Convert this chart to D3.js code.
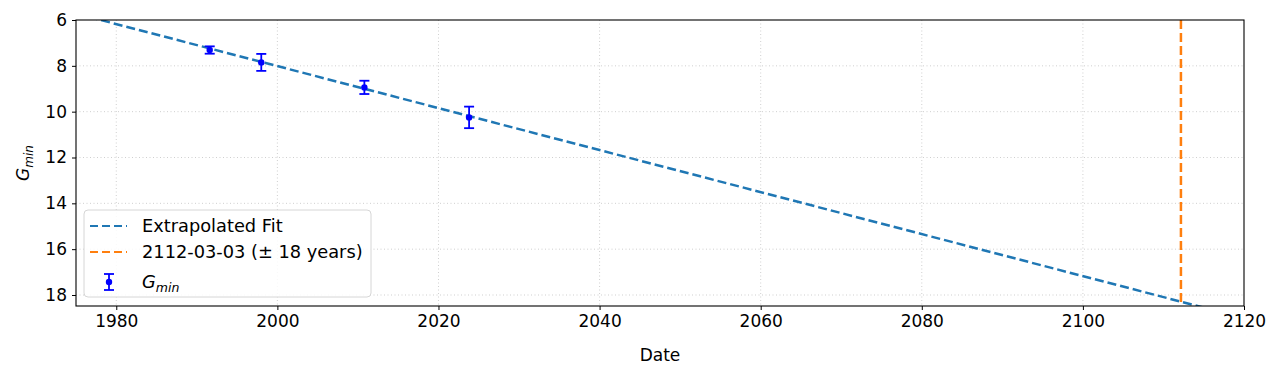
<!DOCTYPE html>
<html>
<head>
<meta charset="utf-8">
<script src="https://cdn.jsdelivr.net/npm/d3@7"></script>
<style>
  body { margin: 0; background: #fff; }
  svg text { font-family: "DejaVu Sans", sans-serif; }
</style>
</head>
<body>
<div id="chart"></div>
<script>
// Dados observados (G_min)
const obsYears = [1991.6, 1998.0, 2010.8, 2023.8];
const obsValues = [7.31, 7.85, 8.94, 10.25];
const obsErrors = [0.16, 0.37, 0.29, 0.47];

// Ajuste extrapolado (extremos da reta)
const fitYears = [1975, 2115];
const fitValues = [5.72, 18.55];

// Data prevista
const predictedYear = 2112.17;

const xTicks = [1980, 2000, 2020, 2040, 2060, 2080, 2100, 2120];
const yTicks = [6, 8, 10, 12, 14, 16, 18];

const legendLabels = ['Extrapolated Fit', '2112-03-03 (\u00b1 18 years)'];

const W = 1280, H = 377;
const margin = { top: 20, right: 36, bottom: 71, left: 76 };
const width = W - margin.left - margin.right;
const height = H - margin.top - margin.bottom;

const svg = d3.select('#chart').append('svg')
  .attr('width', W).attr('height', H);

const g = svg.append('g')
  .attr('transform', `translate(${margin.left},${margin.top})`);

const x = d3.scaleLinear().domain([1975, 2120]).range([0, width]);
const y = d3.scaleLinear().domain([6, 18.48]).range([0, height]);

svg.append('defs').append('clipPath').attr('id', 'clip')
  .append('rect').attr('width', width).attr('height', height);

// Grade pontilhada
g.append('g').selectAll('line').data(xTicks.filter(d => d < 2120)).enter().append('line')
  .attr('x1', d => x(d)).attr('x2', d => x(d))
  .attr('y1', 0).attr('y2', height)
  .attr('stroke', '#cfcfcf').attr('stroke-width', 1).attr('stroke-dasharray', '1,2.5');
g.append('g').selectAll('line').data(yTicks.filter(d => d > 6)).enter().append('line')
  .attr('x1', 0).attr('x2', width)
  .attr('y1', d => y(d)).attr('y2', d => y(d))
  .attr('stroke', '#cfcfcf').attr('stroke-width', 1).attr('stroke-dasharray', '1,2.5');

const plot = g.append('g').attr('clip-path', 'url(#clip)');

// Linha de ajuste
const line = d3.line().x((d, i) => x(fitYears[i])).y(d => y(d));
plot.append('path')
  .datum(fitValues)
  .attr('d', line)
  .attr('fill', 'none')
  .attr('stroke', '#1f77b4')
  .attr('stroke-width', 2.5)
  .attr('stroke-dasharray', '9,4');

// Linha vertical da data prevista
plot.append('line')
  .attr('x1', x(predictedYear)).attr('x2', x(predictedYear))
  .attr('y1', 0).attr('y2', height)
  .attr('stroke', '#ff7f0e')
  .attr('stroke-width', 2.5)
  .attr('stroke-dasharray', '9,4');

// Barras de erro
const pts = obsYears.map((yr, i) => ({ yr, v: obsValues[i], e: obsErrors[i] }));
const eb = g.append('g').selectAll('g').data(pts).enter().append('g');
eb.append('line')
  .attr('x1', d => x(d.yr)).attr('x2', d => x(d.yr))
  .attr('y1', d => y(d.v - d.e)).attr('y2', d => y(d.v + d.e))
  .attr('stroke', '#0000ff').attr('stroke-width', 1.8);
eb.append('line')
  .attr('x1', d => x(d.yr) - 5).attr('x2', d => x(d.yr) + 5)
  .attr('y1', d => y(d.v - d.e)).attr('y2', d => y(d.v - d.e))
  .attr('stroke', '#0000ff').attr('stroke-width', 1.8);
eb.append('line')
  .attr('x1', d => x(d.yr) - 5).attr('x2', d => x(d.yr) + 5)
  .attr('y1', d => y(d.v + d.e)).attr('y2', d => y(d.v + d.e))
  .attr('stroke', '#0000ff').attr('stroke-width', 1.8);
eb.append('circle')
  .attr('cx', d => x(d.yr)).attr('cy', d => y(d.v))
  .attr('r', 3.2).attr('fill', '#0000ff');

// Eixos
const xAxis = g.append('g')
  .attr('transform', `translate(0,${height})`)
  .call(d3.axisBottom(x).tickValues(xTicks).tickFormat(d3.format('d')).tickSizeOuter(0).tickSize(4).tickPadding(5));
const yAxis = g.append('g')
  .call(d3.axisLeft(y).tickValues(yTicks).tickFormat(d3.format('d')).tickSizeOuter(0).tickSize(4).tickPadding(5));
[xAxis, yAxis].forEach(a => {
  a.selectAll('text').style('font-size', '17px').attr('fill', '#000');
  a.selectAll('line').attr('stroke', '#000').attr('stroke-width', 1);
  a.select('.domain').remove();
});

// Moldura
g.append('rect')
  .attr('width', width).attr('height', height)
  .attr('fill', 'none').attr('stroke', '#000').attr('stroke-width', 1.1);

// Rótulos
svg.append('text')
  .attr('x', margin.left + width / 2).attr('y', 361)
  .attr('text-anchor', 'middle')
  .style('font-size', '17px')
  .text('Date');

const yl = svg.append('text')
  .attr('transform', `translate(29,${margin.top + height / 2}) rotate(-90)`)
  .attr('text-anchor', 'middle')
  .style('font-size', '17px')
  .style('font-style', 'italic');
yl.append('tspan').text('G');
yl.append('tspan').attr('dy', 4).style('font-size', '12px').text('min');

// Legenda
const lg = svg.append('g').attr('transform', 'translate(84,210)');
lg.append('rect')
  .attr('width', 287).attr('height', 87).attr('rx', 4)
  .attr('fill', '#fff').attr('fill-opacity', 0.85)
  .attr('stroke', '#d6d6d6').attr('stroke-width', 1);

const handleColors = ['#1f77b4', '#ff7f0e'];
legendLabels.forEach((lab, i) => {
  const yy = 16 + i * 26;
  lg.append('line')
    .attr('x1', 6).attr('x2', 43).attr('y1', yy).attr('y2', yy)
    .attr('stroke', handleColors[i]).attr('stroke-width', 2.2)
    .attr('stroke-dasharray', '8,4');
  lg.append('text')
    .attr('x', 58).attr('y', yy + 6)
    .style('font-size', '17.8px')
    .text(lab);
});
const ly = 72;
lg.append('line').attr('x1', 25).attr('x2', 25).attr('y1', ly - 8).attr('y2', ly + 8)
  .attr('stroke', '#0000ff').attr('stroke-width', 1.8);
lg.append('line').attr('x1', 20).attr('x2', 30).attr('y1', ly - 8).attr('y2', ly - 8)
  .attr('stroke', '#0000ff').attr('stroke-width', 1.8);
lg.append('line').attr('x1', 20).attr('x2', 30).attr('y1', ly + 8).attr('y2', ly + 8)
  .attr('stroke', '#0000ff').attr('stroke-width', 1.8);
lg.append('circle').attr('cx', 25).attr('cy', ly).attr('r', 3.2).attr('fill', '#0000ff');
const lt = lg.append('text').attr('x', 58).attr('y', ly + 6)
  .style('font-size', '17.8px').style('font-style', 'italic');
lt.append('tspan').text('G');
lt.append('tspan').attr('dy', 4).style('font-size', '12.5px').text('min');
</script>
</body>
</html>
